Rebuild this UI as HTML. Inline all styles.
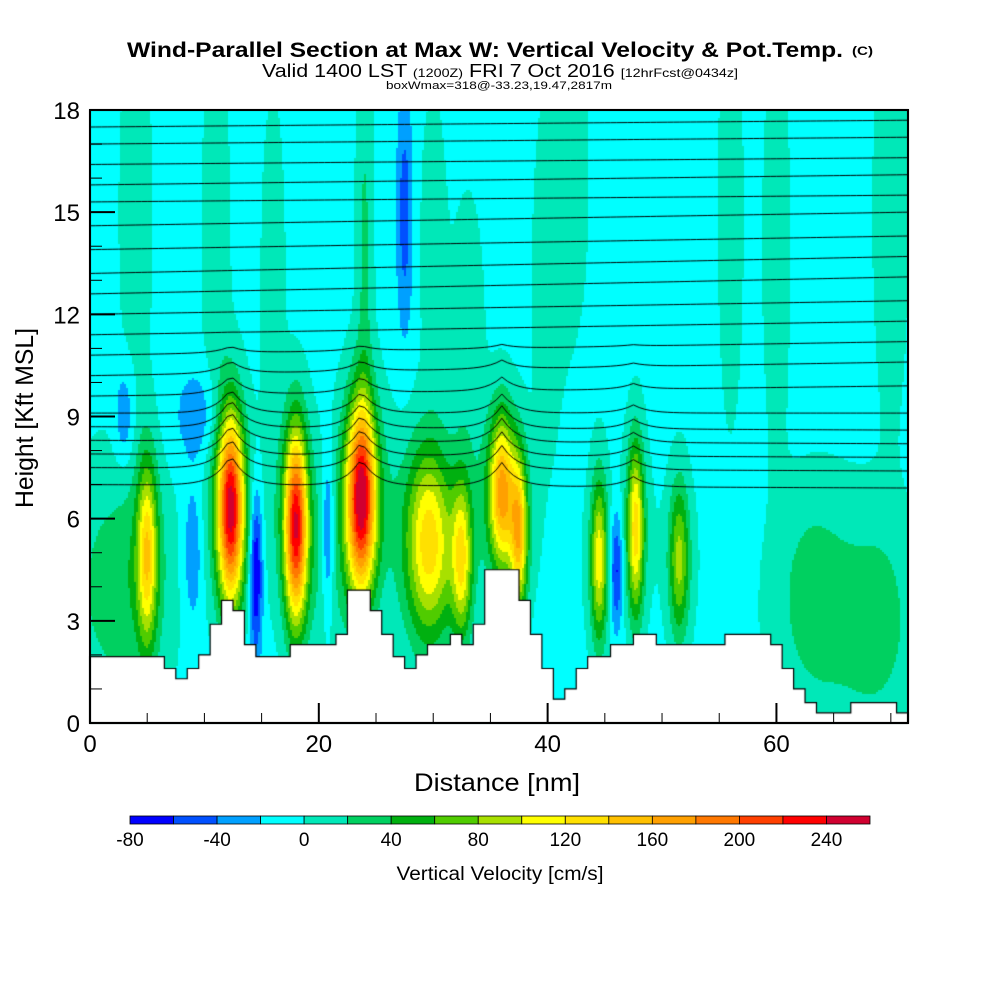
<!DOCTYPE html>
<html><head><meta charset="utf-8"><style>
html,body{margin:0;padding:0;background:#fff;}
#wrap{position:relative;width:1000px;height:1000px;}
canvas{position:absolute;left:0;top:0;}
svg{position:absolute;left:0;top:0;}
text{font-family:"Liberation Sans",sans-serif;}
</style></head><body>
<div id="wrap">
<canvas id="cv" width="1000" height="1000"></canvas>
<svg id="sv" width="1000" height="1000">
<text x="127" y="57" font-size="21" font-weight="bold" textLength="716" lengthAdjust="spacingAndGlyphs">Wind-Parallel Section at Max W: Vertical Velocity &amp; Pot.Temp.</text>
<text x="852" y="55" font-size="12" font-weight="bold" textLength="21" lengthAdjust="spacingAndGlyphs">(C)</text>
<text x="262" y="77" font-size="18" textLength="476" lengthAdjust="spacingAndGlyphs">Valid 1400 LST <tspan font-size="12">(1200Z)</tspan> FRI 7 Oct 2016 <tspan font-size="12">[12hrFcst@0434z]</tspan></text>
<text x="386" y="89" font-size="11" textLength="226" lengthAdjust="spacingAndGlyphs">boxWmax=318@-33.23,19.47,2817m</text>
<g id="axes"></g>
<text x="497" y="791" font-size="25" text-anchor="middle" textLength="166" lengthAdjust="spacingAndGlyphs">Distance [nm]</text>
<text transform="translate(33,418) rotate(-90)" font-size="25" text-anchor="middle" textLength="180" lengthAdjust="spacingAndGlyphs">Height [Kft MSL]</text>
<g id="cbar"></g>
<text x="500" y="880" font-size="19" text-anchor="middle" textLength="207" lengthAdjust="spacingAndGlyphs">Vertical Velocity [cm/s]</text>
</svg>
</div>
<script>
// ---- data ----
const plumeX   = [5, 12.3, 18, 23.7, 29.6, 32.5, 36, 37.5, 44.5, 47.7, 51.5, 2.5, 66, 9, 14.5, 20.8, 46, 3, 27.5, 11, 24, 42, 56, 70, 4, 60, 9.5, 33, 16, 40, 63, 69, 21, 30];
const plumeZ   = [5, 6.3, 5.8, 6.6, 5.3, 4.8, 6.8, 5.5, 4.8, 5.7, 4.8, 4, 3, 5, 4.5, 5.5, 4.5, 9, 15, 14, 14, 16, 15, 15, 15, 14, 9, 11, 13, 13, 4, 3, 4, 14];
const plumeAmp = [130, 260, 250, 265, 140, 115, 175, 145, 120, 140, 95, 38, 26, -35, -85, -55, -65, -35, -45, 22, 30, 22, 22, 22, 18, 20, -30, 20, 15, 15, 22, 20, 18, 18];
const plumeSx  = [0.6, 0.8, 0.7, 0.9, 1.4, 0.6, 0.8, 0.5, 0.5, 0.5, 0.6, 3, 4, 0.6, 0.4, 0.4, 0.4, 0.6, 0.5, 0.8, 0.5, 1, 0.7, 1, 1, 0.8, 1.5, 1, 0.8, 1, 2, 2, 1.5, 0.8];
const plumeSz  = [1.9, 2.0, 2.0, 2.0, 2.0, 1.6, 1.6, 1.6, 1.7, 1.8, 1.6, 2.5, 2.5, 1.5, 1.7, 1.7, 1.2, 1, 2.5, 4, 4, 3, 4, 4, 4, 4, 1, 3, 4, 4, 2, 2, 2, 3];
const terrain  = [1.95,1.95,1.95,1.95,1.95,1.95,1.95,1.6,1.3,1.6,2.0,2.9,3.6,3.3,2.3,1.95,1.95,1.95,2.3,2.3,2.3,2.3,2.6,3.9,3.9,3.3,2.6,1.95,1.6,2.0,2.3,2.3,2.6,2.3,2.9,4.5,4.5,4.5,3.6,2.6,1.6,0.7,1.0,1.6,1.95,1.95,2.3,2.3,2.6,2.6,2.3,2.3,2.3,2.3,2.3,2.3,2.6,2.6,2.6,2.6,2.3,1.6,1.0,0.6,0.3,0.3,0.3,0.6,0.6,0.6,0.6,0.3,0.3];
const thetaLeft  = [17.5,17.0,16.4,15.8,15.3,14.6,13.9,13.2,12.6,12.0,11.4,10.8,10.2,9.6,9.1,8.7,8.3,7.9,7.5,7.0];
const thetaRight = [17.7,17.2,16.6,16.1,15.5,15.0,14.3,13.7,13.1,12.4,11.8,11.2,10.6,9.9,9.1,8.6,8.2,7.8,7.4,6.9];
const xTicks = [0,20,40,60];
const yTicks = [0,3,6,9,12,15,18];
const cbLevels = [-80,-60,-40,-20,0,20,40,60,80,100,120,140,160,180,200,220,240,260];
const cbColors = ["#0000ff","#0050ff","#00a0ff","#00ffff","#00e8b8","#00d060","#00b010","#50cc00","#a8e000","#ffff00","#ffe000","#ffc000","#ffa000","#ff7800","#ff4000","#ff0000","#d00030"];
const cbLabels = [-80,-40,0,40,80,120,160,200,240];

// ---- axes ----
const X0=90,X1=908,Y0=723,Y1=110,XMAX=71.5,ZMAX=18;
const sx=v=>X0+v*(X1-X0)/XMAX, sy=v=>Y0-v*(Y0-Y1)/ZMAX;
const xv=p=>(p-X0)*XMAX/(X1-X0), zv=p=>(Y0-p)*ZMAX/(Y0-Y1);
function w(x,z){let s=-6;for(let i=0;i<plumeX.length;i++){const dx=(x-plumeX[i])/plumeSx[i],dz=(z-plumeZ[i])/plumeSz[i];
 const core=Math.exp(-0.5*(dx*dx+dz*dz));
 s+=plumeAmp[i]*core;
 if(plumeAmp[i]>60){const ex=dx/2;s+=0.14*plumeAmp[i]*(Math.exp(-0.5*(ex*ex+dz*dz))-core);}}
 return s;}
function col(v){let k=Math.floor((v-cbLevels[0])/20);k=Math.max(0,Math.min(cbColors.length-1,k));return cbColors[k];}
const ctx=document.getElementById('cv').getContext('2d');
for(let py=Y1;py<Y0;py+=2){for(let px=X0;px<X1;px+=2){ctx.fillStyle=col(w(xv(px+1),zv(py+1)));ctx.fillRect(px,py,2,2);}}
// terrain
ctx.fillStyle="#fff";ctx.beginPath();ctx.moveTo(X0,Y0);
for(let i=0;i<terrain.length;i++){const h=sy(terrain[i]);ctx.lineTo(sx(Math.max(0,i-0.5)),h);ctx.lineTo(sx(Math.min(XMAX,i+0.5)),h);}
ctx.lineTo(X1,Y0);ctx.closePath();ctx.fill();
ctx.strokeStyle="#000";ctx.lineWidth=1.2;ctx.stroke();
// isentropes
const bumps=[[12.3,0.9],[23.7,0.8],[36,0.7],[47.5,0.3]];
ctx.lineWidth=1;ctx.strokeStyle="#000";
for(let j=0;j<thetaLeft.length;j++){ctx.beginPath();
 for(let x=0;x<=XMAX;x+=0.5){let z=thetaLeft[j]+(thetaRight[j]-thetaLeft[j])*x/XMAX;
  const f=Math.min(1,Math.max(0,(11.5-z)/3));for(const b of bumps){z+=b[1]*f*Math.exp(-Math.abs(x-b[0])/1.3);}
  if(x===0)ctx.moveTo(sx(x),sy(z));else ctx.lineTo(sx(x),sy(z));}
 ctx.stroke();}
ctx.strokeRect(X0,Y1,X1-X0,Y0-Y1);
// svg axes
const NS="http://www.w3.org/2000/svg",ax=document.getElementById('axes');
function mk(t,a,p){const e=document.createElementNS(NS,t);for(const k in a)e.setAttribute(k,a[k]);(p||ax).appendChild(e);return e;}
const frame=mk('rect',{x:X0,y:Y1,width:X1-X0,height:Y0-Y1,fill:'none',stroke:'#000','stroke-width':2});


for(let v=5;v<XMAX;v+=5){const l=mk('line',{x1:sx(v),x2:sx(v),y1:Y0,y2:Y0-(v%20===0?20:10),stroke:'#000','stroke-width':v%20===0?2:1});
 
 }
for(let v=1;v<ZMAX;v++){const l=mk('line',{x1:X0,x2:X0+(v%3===0?25:12),y1:sy(v),y2:sy(v),stroke:'#000','stroke-width':v%3===0?2:1});
 
 }
xTicks.forEach(v=>{const t=mk('text',{x:sx(v),y:752,'font-size':24,'text-anchor':'middle'});t.textContent=v;
 
 });
yTicks.forEach(v=>{const t=mk('text',{x:80,y:sy(v)+9,'font-size':24,'text-anchor':'end'});t.textContent=v;
 
 });
// colorbar
const cb=document.getElementById('cbar'),CB0=130,CB1=870,cw=(CB1-CB0)/cbColors.length;
cbColors.forEach((c,i)=>{const r=mk('rect',{x:CB0+i*cw,y:816,width:cw,height:8,fill:c,stroke:'#000','stroke-width':0.8},cb);
 
 });
cbLabels.forEach(v=>{const t=mk('text',{x:CB0+(v-cbLevels[0])/20*cw,y:846,'font-size':19,'text-anchor':'middle'},cb);t.textContent=v;
 
 });
</script>
</body></html>
